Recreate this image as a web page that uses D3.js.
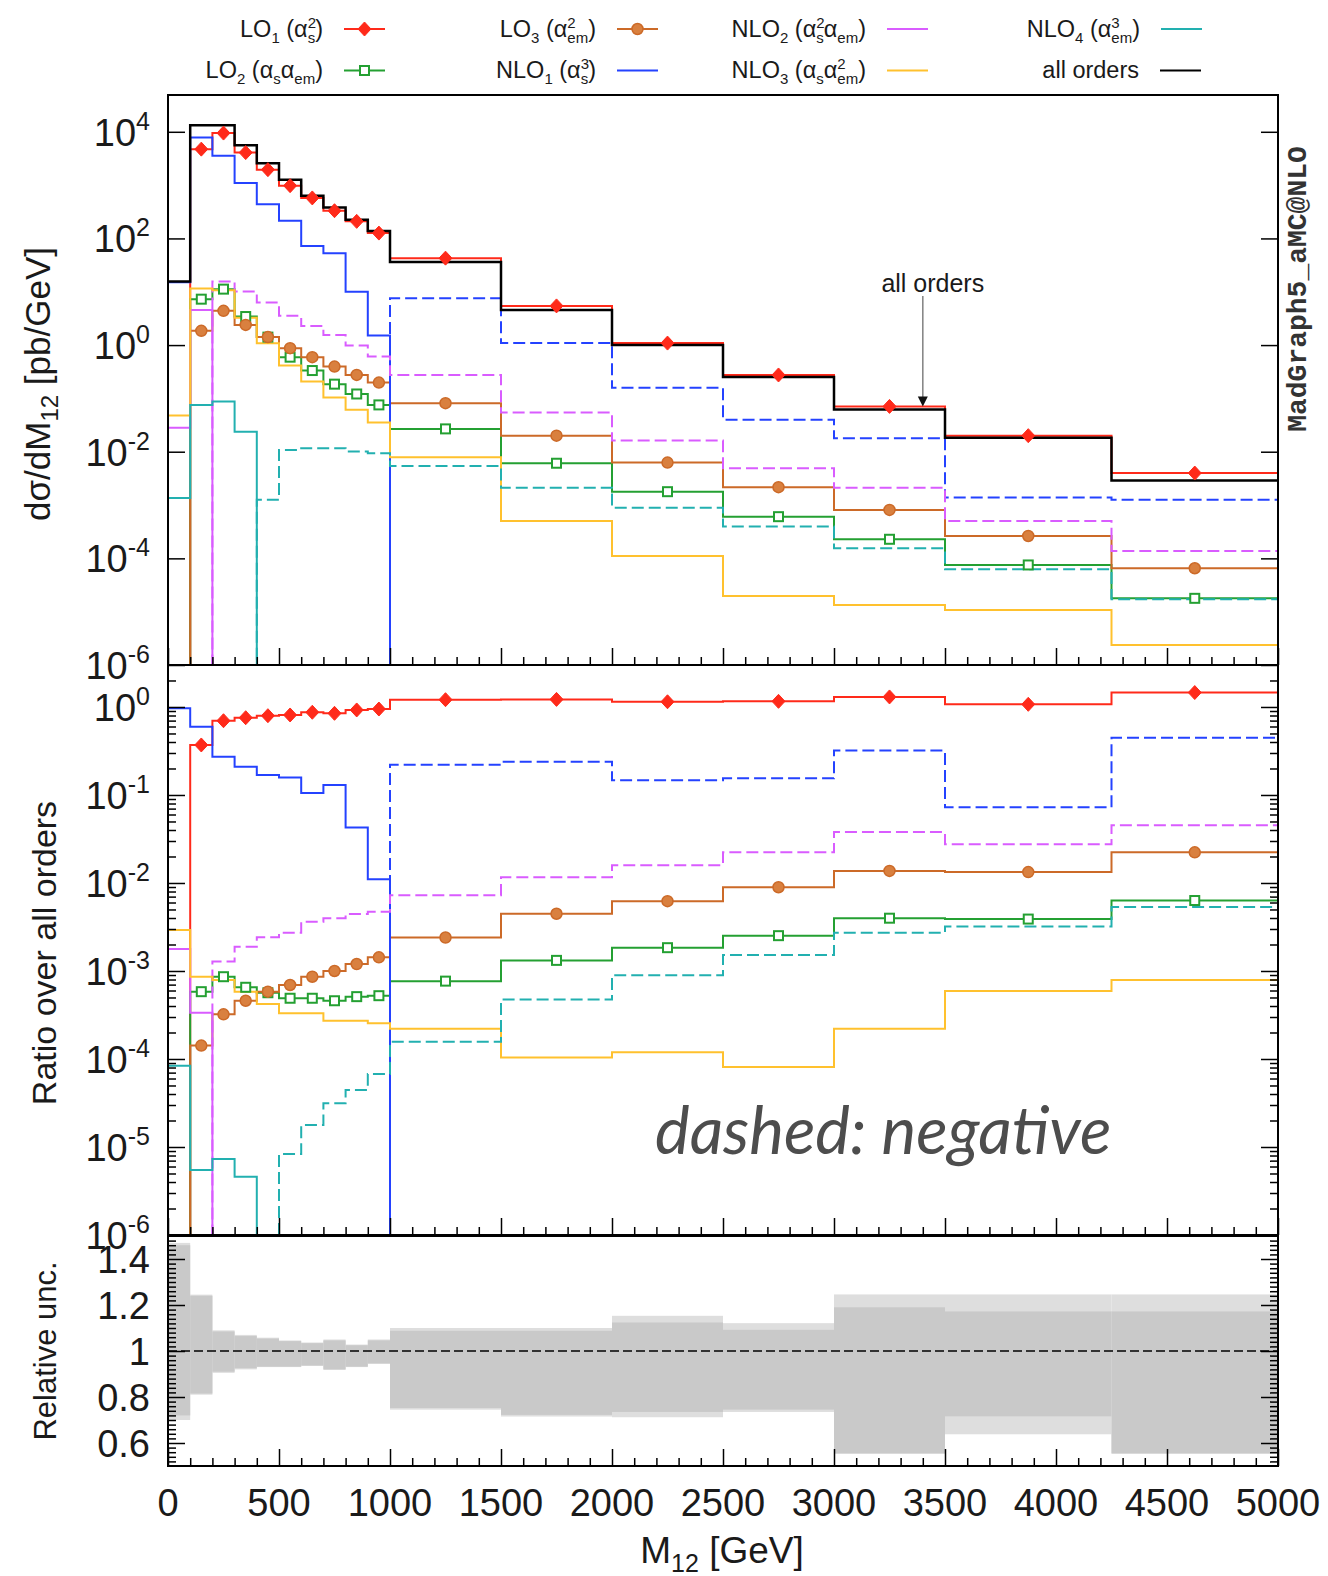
<!DOCTYPE html>
<html><head><meta charset="utf-8">
<script src="https://cdn.jsdelivr.net/npm/d3@7"></script>
<style>
body{margin:0;background:#fff;}
svg{display:block;}
text{font-family:"Liberation Sans",Arial,Helvetica,sans-serif;fill:#1a1a1a;}
</style></head><body>
<svg id="chart" width="1328" height="1576"></svg>
<script>
// ---------------- DATA ----------------
const binEdges = [0,100,200,300,400,500,600,700,800,900,1000,1500,2000,2500,3000,3500,4250,5000];
const xTickLabels = [0,500,1000,1500,2000,2500,3000,3500,4000,4500,5000];

// dsigma/dM12 [pb/GeV], signed (negative = dashed)
const allOrders = [15.5,13200,13200,5620,2570,1260,631,380,224,138,36.3,4.57,1.0,0.251,0.0617,0.0182,0.00288];
const lo1  = [0,4730,9460,4070,1950,977,575,331,209,126,42.7,5.43,1.09,0.275,0.0708,0.0200,0.00398];
const lo2  = [0,7.26,11.2,3.43,1.41,0.593,0.333,0.185,0.121,0.0755,0.0268,0.00608,0.00178,0.000605,0.000228,0.0000752,0.0000178];
const lo3  = [0,1.85,4.39,2.39,1.41,0.875,0.593,0.395,0.276,0.198,0.0813,0.0200,0.00625,0.00216,0.000809,0.000263,0.0000652];
const nlo1 = [15.0,7820,3550,1100,437,214,72.4,52.5,10.0,1.51,-7.59,-1.09,-0.158,-0.0398,-0.0178,-0.00138,-0.00126];
const nlo2 = [0.028,4.57,-15.5,-10.1,-6.27,-3.53,-2.29,-1.55,-0.98,-0.608,-0.276,-0.0542,-0.0162,-0.0049,-0.00212,-0.000504,-0.000138];
const nlo3 = [0.048,11.5,10.7,3.27,1.08,0.416,0.208,0.1035,0.061,0.0352,0.0079,0.000504,0.000111,0.0000197,0.0000134,0.0000108,0.00000237];
const nlo4 = [0.00136,0.0755,0.0871,0.0238,-0.00125,-0.0108,-0.01164,-0.01164,-0.01005,-0.00938,-0.00542,-0.00212,-0.000893,-0.000394,-0.000155,-0.0000624,-0.0000171];

// ratio over all orders, signed
const ratioLo1  = [0,0.370,0.698,0.755,0.796,0.811,0.871,0.847,0.925,0.948,1.21,1.22,1.146,1.159,1.30,1.072,1.459];
const ratioLo2  = [0,5.82e-4,8.61e-4,6.53e-4,5.66e-4,4.90e-4,4.90e-4,4.59e-4,5.11e-4,5.24e-4,7.67e-4,1.32e-3,1.84e-3,2.52e-3,3.98e-3,3.89e-3,6.32e-3];
const ratioLo3  = [0,1.42e-4,3.22e-4,4.59e-4,5.82e-4,6.93e-4,8.61e-4,1.0e-3,1.20e-3,1.43e-3,2.40e-3,4.47e-3,6.21e-3,8.95e-3,1.37e-2,1.33e-2,2.23e-2];
const ratioNlo1 = [0.966,0.597,0.272,0.210,0.169,0.158,0.105,0.130,0.0427,0.0110,-0.221,-0.239,-0.147,-0.155,-0.320,-0.0724,-0.447];
const ratioNlo2 = [1.78e-3,3.36e-4,-1.28e-3,-1.89e-3,-2.42e-3,-2.72e-3,-3.63e-3,-3.97e-3,-4.45e-3,-4.72e-3,-7.24e-3,-1.16e-2,-1.59e-2,-2.23e-2,-3.80e-2,-2.76e-2,-4.52e-2];
const ratioNlo3 = [2.92e-3,8.61e-4,7.91e-4,5.82e-4,4.22e-4,3.30e-4,3.30e-4,2.72e-4,2.72e-4,2.55e-4,2.20e-4,1.04e-4,1.19e-4,8.11e-5,2.20e-4,5.92e-4,7.91e-4];
const ratioNlo4 = [8.39e-5,5.48e-6,7.31e-6,4.60e-6,-4.9e-7,-8.32e-6,-1.78e-5,-3.14e-5,-4.45e-5,-6.76e-5,-1.57e-4,-4.73e-4,-8.95e-4,-1.52e-3,-2.72e-3,-3.21e-3,-5.32e-3];

// relative uncertainty bands
const uncOuterLo = [0.70,0.81,0.905,0.92,0.93,0.93,0.935,0.918,0.93,0.944,0.745,0.715,0.712,0.735,0.553,0.638,0.553];
const uncOuterHi = [1.47,1.245,1.09,1.07,1.058,1.046,1.037,1.05,1.028,1.05,1.10,1.10,1.153,1.121,1.246,1.246,1.246];
const uncInnerLo = [0.72,0.815,0.91,0.925,0.932,0.932,0.937,0.92,0.932,0.946,0.752,0.722,0.735,0.745,0.555,0.716,0.555];
const uncInnerHi = [1.46,1.24,1.085,1.065,1.054,1.043,1.034,1.046,1.025,1.046,1.088,1.088,1.124,1.092,1.19,1.172,1.172];

const topExps = [-6,-4,-2,0,2,4];
const midExps = [-6,-5,-4,-3,-2,-1,0];
const botTicks = [0.6,0.8,1.0,1.2,1.4];
const botTickLabels = ["0.6","0.8","1","1.2","1.4"];

// ---------------- STYLE / LAYOUT ----------------
const svg = d3.select('#chart');
const L = 168, R = 1278;
const TOP = [95,665], MID = [665,1235], BOT = [1236,1466];
const x = d3.scaleLinear().domain([0,5000]).range([L,R]);
const yTop = d3.scaleLog().domain([1e-6, Math.pow(10,4.69)]).range([TOP[1],TOP[0]]);
const yMid = d3.scaleLog().domain([1e-6, Math.pow(10,0.477)]).range([MID[1],MID[0]]);
const yBot = d3.scaleLinear().domain([0.5,1.5]).range([BOT[1],BOT[0]]);

const series = [
  {key:'lo1',  top:lo1,  ratio:ratioLo1,  color:'#ff2a1a', marker:'diamond'},
  {key:'lo2',  top:lo2,  ratio:ratioLo2,  color:'#24a032', marker:'square'},
  {key:'lo3',  top:lo3,  ratio:ratioLo3,  color:'#cc6a28', marker:'circle'},
  {key:'nlo1', top:nlo1, ratio:ratioNlo1, color:'#2442ff'},
  {key:'nlo2', top:nlo2, ratio:ratioNlo2, color:'#d95cff'},
  {key:'nlo3', top:nlo3, ratio:ratioNlo3, color:'#ffc12e'},
  {key:'nlo4', top:nlo4, ratio:ratioNlo4, color:'#22b0b0'}
];

const defs = svg.append('defs');
function clip(id, r){ defs.append('clipPath').attr('id',id).append('rect')
  .attr('x',L).attr('y',r[0]).attr('width',R-L).attr('height',r[1]-r[0]); }
clip('cTop',TOP); clip('cMid',MID); clip('cBot',BOT);

const lineGen = d3.line();
function histPath(vals, sgn, y){
  const far = y.range()[0] + 3000;
  const pts = [];
  vals.forEach((v,i)=>{
    const a = sgn*v;
    const yy = a>0 ? y(a) : far;
    pts.push([x(binEdges[i]),yy],[x(binEdges[i+1]),yy]);
  });
  return lineGen(pts);
}
const centers = binEdges.slice(0,-1).map((e,i)=>(e+binEdges[i+1])/2);

function drawMarker(g, type, cx, cy, color){
  if(type==='diamond'){
    g.append('path').attr('d',`M${cx},${cy-7}L${cx+6.5},${cy}L${cx},${cy+7}L${cx-6.5},${cy}Z`)
      .attr('fill',color).attr('stroke',color).attr('stroke-width',1);
  } else if(type==='square'){
    g.append('rect').attr('x',cx-4.5).attr('y',cy-4.5).attr('width',9).attr('height',9)
      .attr('fill','#fff').attr('stroke',color).attr('stroke-width',2);
  } else if(type==='circle'){
    g.append('circle').attr('cx',cx).attr('cy',cy).attr('r',5.5)
      .attr('fill','#d9803f').attr('stroke',color).attr('stroke-width',1.5);
  }
}

function drawPanel(clipId, y, which, withAll){
  const g = svg.append('g').attr('clip-path',`url(#${clipId})`);
  series.forEach(s=>{
    const vals = s[which];
    g.append('path').attr('d',histPath(vals,1,y)).attr('fill','none')
      .attr('stroke',s.color).attr('stroke-width',2);
    g.append('path').attr('d',histPath(vals,-1,y)).attr('fill','none')
      .attr('stroke',s.color).attr('stroke-width',2).attr('stroke-dasharray','12,5');
  });
  if(withAll){
    g.append('path').attr('d',histPath(allOrders,1,y)).attr('fill','none')
      .attr('stroke','#000').attr('stroke-width',2.5);
  }
  series.filter(s=>s.marker).forEach(s=>{
    s[which].forEach((v,i)=>{
      if(v>0) drawMarker(g, s.marker, x(centers[i]), y(v), s.color);
    });
  });
}

// bottom bands
const gb = svg.append('g').attr('clip-path','url(#cBot)');
uncOuterLo.forEach((lo,i)=>{
  gb.append('rect').attr('x',x(binEdges[i])).attr('width',x(binEdges[i+1])-x(binEdges[i]))
    .attr('y',yBot(uncOuterHi[i])).attr('height',yBot(lo)-yBot(uncOuterHi[i])).attr('fill','#dedede');
});
uncInnerLo.forEach((lo,i)=>{
  gb.append('rect').attr('x',x(binEdges[i])).attr('width',x(binEdges[i+1])-x(binEdges[i]))
    .attr('y',yBot(uncInnerHi[i])).attr('height',yBot(lo)-yBot(uncInnerHi[i])).attr('fill','#c9c9c9');
});
gb.append('line').attr('x1',L).attr('x2',R).attr('y1',yBot(1)).attr('y2',yBot(1))
  .attr('stroke','#000').attr('stroke-width',1.6).attr('stroke-dasharray','9,4');

drawPanel('cTop', yTop, 'top', true);
drawPanel('cMid', yMid, 'ratio', false);

// ---------------- AXES ----------------
function styleAxis(g){ g.selectAll('.domain').remove(); g.selectAll('line').attr('stroke','#000').attr('stroke-width',1.5); }
const minorX = d3.range(0,5001,100).filter(v=>v%500!==0);
const majorX = d3.range(0,5001,500);
[TOP[1],MID[1],BOT[1]].forEach(yy=>{
  const g1 = svg.append('g').attr('transform',`translate(0,${yy})`)
    .call(d3.axisBottom(x).tickValues(minorX).tickSize(-8).tickFormat(''));
  styleAxis(g1);
  const g2 = svg.append('g').attr('transform',`translate(0,${yy})`)
    .call(d3.axisBottom(x).tickValues(majorX).tickSize(-17).tickFormat(''));
  styleAxis(g2);
});
function yAxes(y, majors, minors){
  [[d3.axisLeft,L],[d3.axisRight,R]].forEach(([ax,xx])=>{
    const g1 = svg.append('g').attr('transform',`translate(${xx},0)`)
      .call(ax(y).tickValues(majors).tickSize(-17).tickFormat(''));
    styleAxis(g1);
    if(minors){
      const g2 = svg.append('g').attr('transform',`translate(${xx},0)`)
        .call(ax(y).tickValues(minors).tickSize(-8).tickFormat(''));
      styleAxis(g2);
    }
  });
}
yAxes(yTop, topExps.map(k=>Math.pow(10,k)), null);
const midMinor = [];
midExps.forEach(k=>{ for(let m=2;m<=9;m++){ const v=m*Math.pow(10,k); if(v<Math.pow(10,0.477)) midMinor.push(v);} });
yAxes(yMid, midExps.map(k=>Math.pow(10,k)), midMinor);
const botMinor = d3.range(26,75).map(i=>i*0.02).filter(v=>Math.abs((v*10)%2)>0.05 && Math.abs((v*10)%2-2)>0.05);
yAxes(yBot, botTicks, botMinor);

// frames
[TOP,MID,BOT].forEach(r=>{
  svg.append('rect').attr('x',L).attr('y',r[0]).attr('width',R-L).attr('height',r[1]-r[0])
    .attr('fill','none').attr('stroke','#000').attr('stroke-width',2);
});

// ---------------- TEXT ----------------
function rich(t, parts, base, small, subDy, supDy){
  let cur = 0;
  parts.forEach(p=>{
    if(typeof p === 'string'){
      t.append('tspan').attr('dy',-cur).attr('font-size',base).text(p); cur = 0;
    } else if(p.sup!==undefined && p.sub!==undefined){
      const a = t.append('tspan').attr('dy',supDy-cur).attr('font-size',small).text(p.sup); cur = supDy;
      const w = a.node().getComputedTextLength();
      t.append('tspan').attr('dx',-w).attr('dy',subDy-cur).attr('font-size',small).text(p.sub); cur = subDy;
    } else if(p.sup!==undefined){
      t.append('tspan').attr('dy',supDy-cur).attr('font-size',small).text(p.sup); cur = supDy;
    } else {
      t.append('tspan').attr('dy',subDy-cur).attr('font-size',small).text(p.sub); cur = subDy;
    }
  });
  return t;
}
// y tick labels
topExps.forEach(k=>{
  const t = svg.append('text').attr('x',150).attr('y',yTop(Math.pow(10,k))+14).attr('text-anchor','end');
  rich(t,['10',{sup:String(k)}],38,25,0,-16);
});
midExps.forEach(k=>{
  const t = svg.append('text').attr('x',150).attr('y',yMid(Math.pow(10,k))+14).attr('text-anchor','end');
  rich(t,['10',{sup:String(k)}],38,25,0,-16);
});
botTicks.forEach((v,i)=>{
  svg.append('text').attr('x',150).attr('y',yBot(v)+14).attr('text-anchor','end')
    .attr('font-size',38).text(botTickLabels[i]);
});
xTickLabels.forEach(v=>{
  svg.append('text').attr('x',x(v)).attr('y',1516).attr('text-anchor','middle')
    .attr('font-size',38).text(v);
});
// axis titles
const t1 = svg.append('text').attr('transform',`translate(50,${(TOP[0]+TOP[1])/2+4}) rotate(-90)`).attr('text-anchor','middle');
rich(t1,['dσ/dM',{sub:'12'},' [pb/GeV]'],35,24,8,0);
svg.append('text').attr('transform',`translate(56,${(MID[0]+MID[1])/2+3}) rotate(-90)`).attr('text-anchor','middle')
  .attr('font-size',34).text('Ratio over all orders');
svg.append('text').attr('transform',`translate(56,${(BOT[0]+BOT[1])/2}) rotate(-90)`).attr('text-anchor','middle')
  .attr('font-size',31).text('Relative unc.');
const tx = svg.append('text').attr('x',722).attr('y',1563).attr('text-anchor','middle');
rich(tx,['M',{sub:'12'},' [GeV]'],37,25,9,0);

svg.append('text').attr('transform',`translate(1306,289) rotate(-90)`).attr('text-anchor','middle')
  .attr('font-size',28)
  .style('font-family','"Liberation Mono","DejaVu Sans Mono",monospace').style('font-weight','bold').style('fill','#333')
  .text('MadGraph5_aMC@NLO');

// annotation "all orders"
const ax = x(3400), ay = yTop(allOrders[14]);
svg.append('line').attr('x1',ax).attr('x2',ax).attr('y1',296).attr('y2',ay-8).attr('stroke','#888').attr('stroke-width',1.6);
svg.append('path').attr('d',`M${ax-5},${ay-13}L${ax+5},${ay-13}L${ax},${ay-3}Z`).attr('fill','#111');
svg.append('text').attr('x',ax+10).attr('y',292).attr('text-anchor','middle').attr('font-size',25).attr('fill','#333').text('all orders');

// dashed: negative
svg.append('text').attr('x',655).attr('y',1154).attr('font-size',65.5)
  .style('font-family','Lato, "Open Sans", sans-serif').style('font-style','italic').style('fill','#4d4d4d')
  .text('dashed: negative');

// ---------------- LEGEND ----------------
const legend = [
  {parts:['LO',{sub:'1'},' (α',{sup:'2',sub:'s'},')'], color:'#ff2a1a', marker:'diamond', tx:323, row:0},
  {parts:['LO',{sub:'2'},' (α',{sub:'s'},'α',{sub:'em'},')'], color:'#24a032', marker:'square', tx:323, row:1},
  {parts:['LO',{sub:'3'},' (α',{sup:'2',sub:'em'},')'], color:'#cc6a28', marker:'circle', tx:596, row:0},
  {parts:['NLO',{sub:'1'},' (α',{sup:'3',sub:'s'},')'], color:'#2442ff', tx:596, row:1},
  {parts:['NLO',{sub:'2'},' (α',{sup:'2',sub:'s'},'α',{sub:'em'},')'], color:'#d95cff', tx:866, row:0},
  {parts:['NLO',{sub:'3'},' (α',{sub:'s'},'α',{sup:'2',sub:'em'},')'], color:'#ffc12e', tx:866, row:1},
  {parts:['NLO',{sub:'4'},' (α',{sup:'3',sub:'em'},')'], color:'#22b0b0', tx:1140, row:0},
  {parts:['all orders'], color:'#000', tx:1139, row:1}
];
const rowBase = [37,77.5], rowLine = [29,70.5];
const lg = svg.append('g');
legend.forEach(it=>{
  const t = lg.append('text').attr('x',it.tx).attr('y',rowBase[it.row]).attr('text-anchor','end');
  rich(t,it.parts,23.5,15,6,-9);
  const x0 = it.tx+21, x1 = it.tx+62;
  lg.append('line').attr('x1',x0).attr('x2',x1).attr('y1',rowLine[it.row]).attr('y2',rowLine[it.row])
    .attr('stroke',it.color).attr('stroke-width',2.2);
  if(it.marker) drawMarker(lg, it.marker, (x0+x1)/2, rowLine[it.row], it.color);
});
</script>
</body></html>
